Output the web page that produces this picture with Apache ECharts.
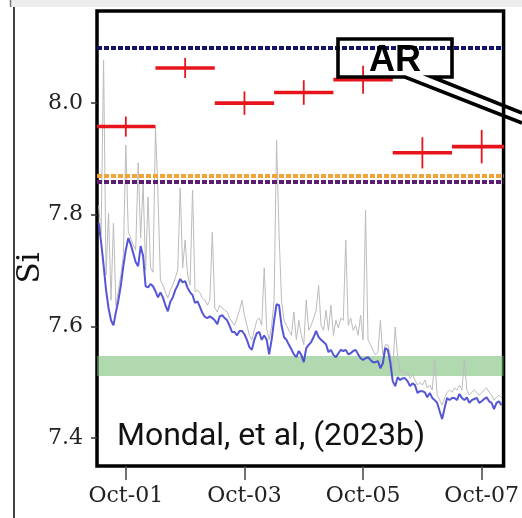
<!DOCTYPE html>
<html>
<head>
<meta charset="utf-8">
<script src="https://cdn.jsdelivr.net/npm/echarts@6/dist/echarts.min.js"></script>
<style>
  html, body { margin: 0; padding: 0; background: #fff; }
  #chart { width: 522px; height: 518px; }
</style>
</head>
<body>
<div id="chart"></div>
<script>
// Hourly Si record, first sample 11 h before Oct-01 00:00
const sampleStartHour = -11;
const sampleStepHours = 1;

// Filtered Si (blue trace)
const siFiltered = [
  7.785, 7.751, 7.710, 7.665, 7.633, 7.611, 7.602, 7.626, 7.647, 7.674, 7.708,
  7.737, 7.758, 7.747, 7.731, 7.715, 7.708, 7.744, 7.726, 7.672, 7.670, 7.676, 7.672,
  7.663, 7.652, 7.661, 7.652, 7.638, 7.627, 7.644, 7.652, 7.665, 7.674, 7.685, 7.679,
  7.681, 7.669, 7.661, 7.656, 7.642, 7.645, 7.635, 7.624, 7.617, 7.615, 7.618, 7.615,
  7.611, 7.604, 7.618, 7.620, 7.615, 7.611, 7.601, 7.590, 7.590, 7.584, 7.592, 7.592,
  7.586, 7.576, 7.563, 7.558, 7.576, 7.588, 7.590, 7.576, 7.584, 7.576, 7.550, 7.576,
  7.611, 7.640, 7.638, 7.602, 7.581, 7.576, 7.567, 7.559, 7.550, 7.545, 7.556, 7.549,
  7.536, 7.561, 7.567, 7.572, 7.581, 7.592, 7.581, 7.576, 7.572, 7.568, 7.554, 7.558,
  7.549, 7.545, 7.552, 7.558, 7.556, 7.558, 7.550, 7.552, 7.556, 7.558, 7.550, 7.543,
  7.540, 7.543, 7.545, 7.540, 7.536, 7.536, 7.538, 7.525, 7.534, 7.561, 7.558, 7.536,
  7.502, 7.493, 7.509, 7.504, 7.507, 7.507, 7.502, 7.493, 7.498, 7.495, 7.481, 7.484,
  7.484, 7.482, 7.473, 7.481, 7.472, 7.468, 7.463, 7.448, 7.434, 7.454, 7.472, 7.468,
  7.472, 7.472, 7.468, 7.479, 7.472, 7.468, 7.473, 7.463, 7.468, 7.470, 7.472, 7.463,
  7.466, 7.470, 7.473, 7.466, 7.463, 7.452, 7.463, 7.466, 7.459
];

// Raw Si (grey trace, with spikes)
const siRaw = [
  7.817, 7.764, 8.077, 7.692, 7.803, 7.647, 7.785, 7.638, 7.665, 7.692, 7.728,
  7.925, 7.769, 7.758, 7.746, 7.737, 7.893, 7.758, 7.857, 7.701, 7.832, 7.705, 7.697,
  7.957, 7.839, 7.683, 7.674, 7.662, 7.651, 7.665, 7.674, 7.687, 7.701, 7.848, 7.705,
  7.755, 7.692, 7.674, 7.844, 7.662, 7.665, 7.660, 7.651, 7.647, 7.638, 7.647, 7.769,
  7.633, 7.626, 7.638, 7.633, 7.629, 7.626, 7.615, 7.608, 7.602, 7.615, 7.629, 7.647,
  7.620, 7.602, 7.584, 7.576, 7.593, 7.611, 7.615, 7.602, 7.705, 7.597, 7.576, 7.602,
  7.647, 7.934, 7.767, 7.647, 7.611, 7.602, 7.593, 7.584, 7.626, 7.576, 7.611, 7.584,
  7.567, 7.647, 7.593, 7.602, 7.615, 7.629, 7.674, 7.602, 7.593, 7.629, 7.593, 7.638,
  7.584, 7.611, 7.597, 7.615, 7.611, 7.755, 7.602, 7.615, 7.593, 7.602, 7.584, 7.620,
  7.576, 7.808, 7.576, 7.567, 7.558, 7.549, 7.554, 7.611, 7.549, 7.567, 7.567, 7.549,
  7.522, 7.599, 7.545, 7.518, 7.522, 7.513, 7.518, 7.507, 7.513, 7.504, 7.495, 7.500,
  7.495, 7.504, 7.490, 7.495, 7.486, 7.540, 7.477, 7.468, 7.459, 7.472, 7.482, 7.486,
  7.482, 7.490, 7.486, 7.495, 7.486, 7.540, 7.486, 7.477, 7.482, 7.486, 7.482, 7.477,
  7.481, 7.486, 7.490, 7.482, 7.477, 7.468, 7.473, 7.477, 7.472
];

// Daily AR estimates (day index from Oct-01), mean and half error
const arDays = [0, 1, 2, 3, 4, 5, 6];
const arMean = [7.958, 8.063, 8.000, 8.019, 8.042, 7.911, 7.922];
const arErr = [0.018, 0.018, 0.021, 0.022, 0.025, 0.028, 0.030];
const arBinHalfWidth = 0.5;

// Reference levels
const refLevels = [8.10, 7.869, 7.858];
const refColors = ['#12136b', '#f2a43a', '#5a1f6e'];
const bandRange = [7.511, 7.547];

// Axis ticks
const xTickDays = [0, 2, 4, 6];
const xTickLabels = ['Oct-01', 'Oct-03', 'Oct-05', 'Oct-07'];
const yTickValues = [7.4, 7.6, 7.8, 8.0];

const toPairs = vals => vals.map((v, i) => [(sampleStartHour + i * sampleStepHours) / 24, v]);

const chart = echarts.init(document.getElementById('chart'), null, { renderer: 'canvas' });

const serif = 'DejaVu Serif';

chart.setOption({
  animation: false,
  backgroundColor: '#fff',
  grid: {
    left: 97, right: 16, top: 11, bottom: 52,
    show: true, borderColor: '#000', borderWidth: 3.5, backgroundColor: 'transparent'
  },
  xAxis: {
    type: 'value',
    min: -0.486, max: 6.369,
    axisLine: { show: false, onZero: false },
    splitLine: { show: false },
    axisTick: { show: true, customValues: xTickDays, length: 14, lineStyle: { color: '#444', width: 1.5 } },
    axisLabel: {
      customValues: xTickDays, margin: 19,
      fontFamily: serif, fontSize: 22, color: '#222',
      formatter: v => xTickLabels[xTickDays.indexOf(Math.round(v))] || ''
    }
  },
  yAxis: {
    type: 'value',
    min: 7.35, max: 8.165,
    axisLine: { show: false, onZero: false },
    splitLine: { show: false },
    axisTick: { show: true, customValues: yTickValues, length: 6, lineStyle: { color: '#333', width: 1.5 } },
    axisLabel: {
      customValues: yTickValues, margin: 14,
      fontFamily: serif, fontSize: 22, color: '#222',
      formatter: v => v.toFixed(1)
    }
  },
  series: [
    {
      name: 'raw', type: 'line', data: toPairs(siRaw), showSymbol: false, z: 1,
      lineStyle: { color: '#bcbcbc', width: 1 }, silent: true, clip: true
    },
    {
      name: 'filtered', type: 'line', data: toPairs(siFiltered), showSymbol: false, z: 2,
      lineStyle: { color: '#4242d4', width: 2, opacity: 0.9 }, silent: true, clip: true
    },
    {
      name: 'band', type: 'line', data: [], z: 3, silent: true,
      markArea: {
        silent: true,
        itemStyle: { color: 'rgba(112,186,112,0.55)' },
        data: [[{ yAxis: bandRange[0] }, { yAxis: bandRange[1] }]]
      }
    },
    {
      name: 'levels', type: 'line', data: [], z: 4, silent: true,
      markLine: {
        silent: true, symbol: ['none', 'none'], label: { show: false },
        data: refLevels.map((y, i) => ({
          yAxis: y,
          lineStyle: { color: refColors[i], width: 3.8, type: [5, 2] }
        }))
      }
    },
    {
      name: 'AR', type: 'custom', z: 5, silent: true, clip: true,
      data: arDays.map((d, i) => [d, arMean[i], arErr[i]]),
      renderItem: (params, api) => {
        const d = api.value(0), m = api.value(1), e = api.value(2);
        const left = api.coord([d - arBinHalfWidth, m]);
        const right = api.coord([d + arBinHalfWidth, m]);
        const top = api.coord([d, m + e]);
        const bottom = api.coord([d, m - e]);
        return {
          type: 'group',
          children: [
            { type: 'line', shape: { x1: left[0], y1: left[1], x2: right[0], y2: right[1] },
              style: { stroke: '#e8141c', lineWidth: 3.6 } },
            { type: 'line', shape: { x1: top[0], y1: top[1], x2: bottom[0], y2: bottom[1] },
              style: { stroke: '#e8141c', lineWidth: 1.8 } }
          ]
        };
      }
    }
  ],
  graphic: [
    { type: 'rect', shape: { x: 10, y: 0, width: 512, height: 7 }, style: { fill: '#ededed' }, silent: true },
    { type: 'line', shape: { x1: 14, y1: 7, x2: 14, y2: 518 }, style: { stroke: '#111', lineWidth: 1.6 }, silent: true },
    { type: 'line', shape: { x1: 10.5, y1: 0, x2: 10.5, y2: 7 }, style: { stroke: '#777', lineWidth: 1.5 }, silent: true },
    {
      type: 'text', x: 31, y: 268, rotation: Math.PI / 2, silent: true,
      style: { text: 'Si', fontFamily: serif, fontSize: 31, fill: '#111', align: 'center', verticalAlign: 'middle' }
    },
    {
      type: 'text', x: 117, y: 437, silent: true,
      style: { text: 'Mondal, et al, (2023b)', fontFamily: 'Roboto', fontSize: 32, fill: '#111', align: 'left', verticalAlign: 'middle' }
    },
    {
      type: 'polyline', silent: true, z: 100,
      shape: { points: [[522, 123], [405, 77], [338, 77], [338, 39], [452, 39], [452, 77], [432, 77], [522, 113]] },
      style: { stroke: '#000', lineWidth: 3.6, fill: null, lineJoin: 'miter' }
    },
    {
      type: 'text', x: 395, y: 61, silent: true, z: 100,
      style: { text: 'AR', fontFamily: 'Liberation Sans', fontWeight: 'bold', fontSize: 36, fill: '#000', align: 'center', verticalAlign: 'middle' }
    }
  ]
});
</script>
</body>
</html>
